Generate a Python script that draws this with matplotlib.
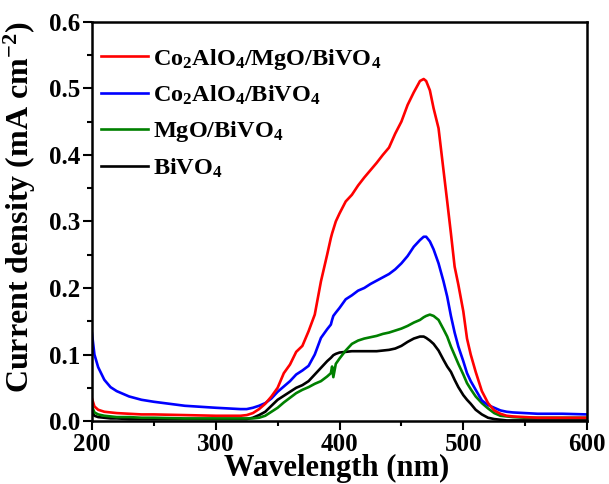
import matplotlib
matplotlib.use("Agg")
import matplotlib.pyplot as plt
from matplotlib.ticker import MultipleLocator

plt.rcParams['font.family'] = ['Liberation Serif', 'DejaVu Serif']
plt.rcParams['font.weight'] = 'bold'
plt.rcParams['mathtext.fontset'] = 'custom'
plt.rcParams['mathtext.rm'] = 'Liberation Serif:bold'
plt.rcParams['mathtext.it'] = 'Liberation Serif:bold'
plt.rcParams['mathtext.bf'] = 'Liberation Serif:bold'

# Wavelength grid (nm)
wavelength = [200, 202, 205, 210, 215, 220, 230, 240, 250, 275, 300, 320, 325, 330,
              335, 340, 345, 350, 355, 360, 365, 370, 375, 380, 385, 390, 393, 394,
              395, 397, 400, 405, 410, 415, 420, 425, 430, 435, 440, 445, 450, 455,
              460, 465, 468, 470, 473, 476, 480, 484, 487, 490, 493, 496, 500, 503,
              506, 510, 515, 520, 525, 530, 535, 540, 550, 560, 580, 600]

# Photocurrent density (mA cm^-2)
co2alo4_mgo_bivo4 = [0.034, 0.022, 0.017, 0.014, 0.013, 0.012, 0.011, 0.010, 0.010, 0.009,
                     0.008, 0.008, 0.009, 0.012, 0.018, 0.026, 0.037, 0.050, 0.072, 0.085,
                     0.104, 0.113, 0.135, 0.160, 0.210, 0.250, 0.275, 0.282, 0.288, 0.300,
                     0.312, 0.330, 0.340, 0.354, 0.366, 0.377, 0.388, 0.400, 0.411, 0.432,
                     0.450, 0.475, 0.494, 0.511, 0.514, 0.511, 0.497, 0.470, 0.440, 0.377,
                     0.330, 0.282, 0.232, 0.205, 0.165, 0.124, 0.100, 0.074, 0.045, 0.027,
                     0.016, 0.011, 0.008, 0.007, 0.006, 0.005, 0.005, 0.005]

co2alo4_bivo4 = [0.132, 0.100, 0.081, 0.062, 0.051, 0.045, 0.037, 0.032, 0.029, 0.023,
                 0.020, 0.018, 0.018, 0.020, 0.023, 0.027, 0.034, 0.044, 0.052, 0.060,
                 0.070, 0.076, 0.083, 0.100, 0.125, 0.138, 0.145, 0.152, 0.158, 0.163,
                 0.170, 0.183, 0.189, 0.196, 0.200, 0.206, 0.211, 0.216, 0.221, 0.228,
                 0.237, 0.248, 0.262, 0.272, 0.277, 0.277, 0.270, 0.258, 0.237, 0.210,
                 0.187, 0.158, 0.133, 0.112, 0.090, 0.072, 0.060, 0.047, 0.031, 0.024,
                 0.020, 0.016, 0.014, 0.013, 0.012, 0.011, 0.011, 0.010]

mgo_bivo4 = [0.022, 0.013, 0.010, 0.008, 0.007, 0.006, 0.006, 0.005, 0.005, 0.004,
             0.004, 0.004, 0.004, 0.004, 0.005, 0.008, 0.014, 0.020, 0.028, 0.035,
             0.042, 0.047, 0.051, 0.056, 0.060, 0.067, 0.072, 0.082, 0.066, 0.086,
             0.094, 0.106, 0.116, 0.121, 0.124, 0.126, 0.128, 0.131, 0.133, 0.136,
             0.139, 0.143, 0.148, 0.152, 0.156, 0.158, 0.160, 0.158, 0.152, 0.138,
             0.127, 0.112, 0.099, 0.086, 0.070, 0.057, 0.048, 0.037, 0.027, 0.019,
             0.012, 0.008, 0.007, 0.006, 0.005, 0.005, 0.005, 0.005]

bivo4 = [0.014, 0.008, 0.006, 0.005, 0.004, 0.004, 0.003, 0.003, 0.003, 0.003,
         0.003, 0.003, 0.003, 0.005, 0.009, 0.014, 0.023, 0.032, 0.038, 0.044,
         0.050, 0.054, 0.060, 0.070, 0.080, 0.090, 0.095, 0.097, 0.099, 0.101,
         0.103, 0.104, 0.105, 0.105, 0.105, 0.105, 0.105, 0.106, 0.107, 0.109,
         0.113, 0.119, 0.124, 0.127, 0.127, 0.125, 0.121, 0.116, 0.106, 0.092,
         0.082, 0.074, 0.062, 0.051, 0.039, 0.032, 0.026, 0.017, 0.010, 0.005,
         0.003, 0.002, 0.001, 0.001, 0.001, 0.001, 0.001, 0.001]

labels = ['Co$_2$AlO$_4$/MgO/BiVO$_4$', 'Co$_2$AlO$_4$/BiVO$_4$',
          'MgO/BiVO$_4$', 'BiVO$_4$']
colors = ['#ff0000', '#0000ff', '#008000', '#000000']
series = [co2alo4_mgo_bivo4, co2alo4_bivo4, mgo_bivo4, bivo4]

fig = plt.figure(figsize=(6.09, 4.84), dpi=100)
ax = fig.add_axes([0.151, 0.130, 0.813, 0.825])

handles = []
for s, c, lab in reversed(list(zip(series, colors, labels))):
    h, = ax.plot(wavelength, s, color=c, lw=1.9, label=lab)
    handles.append(h)
handles = handles[::-1]

ax.set_xlim(200, 600)
ax.set_ylim(0, 0.6)
ax.xaxis.set_major_locator(MultipleLocator(100))
ax.xaxis.set_minor_locator(MultipleLocator(50))
ax.yaxis.set_major_locator(MultipleLocator(0.1))
ax.yaxis.set_minor_locator(MultipleLocator(0.05))
ax.yaxis.set_major_formatter(plt.FuncFormatter(lambda v, p: f'{v:.1f}'))

for sp in ax.spines.values():
    sp.set_linewidth(1.8)
ax.tick_params(which='major', direction='out', length=6.5, width=1.5,
               labelsize=18, top=False, right=False, pad=2.2)
ax.tick_params(which='minor', direction='out', length=3.5, width=1.5,
               top=False, right=False)

ax.set_xlabel('Wavelength (nm)', fontsize=22, fontweight='bold')
ax.set_ylabel('Current density (mA cm$^{-2}$)', fontsize=23, fontweight='bold')
ax.xaxis.set_label_coords(0.495, -0.083)
ax.yaxis.set_label_coords(-0.108, 0.535)

ax.legend(handles=handles, loc='upper left', frameon=False, fontsize=17.5,
          handlelength=1.95, handletextpad=0.2, labelspacing=0.5,
          borderaxespad=0.3, bbox_to_anchor=(-0.017, 0.98))

fig.savefig('out.png', dpi=100)
